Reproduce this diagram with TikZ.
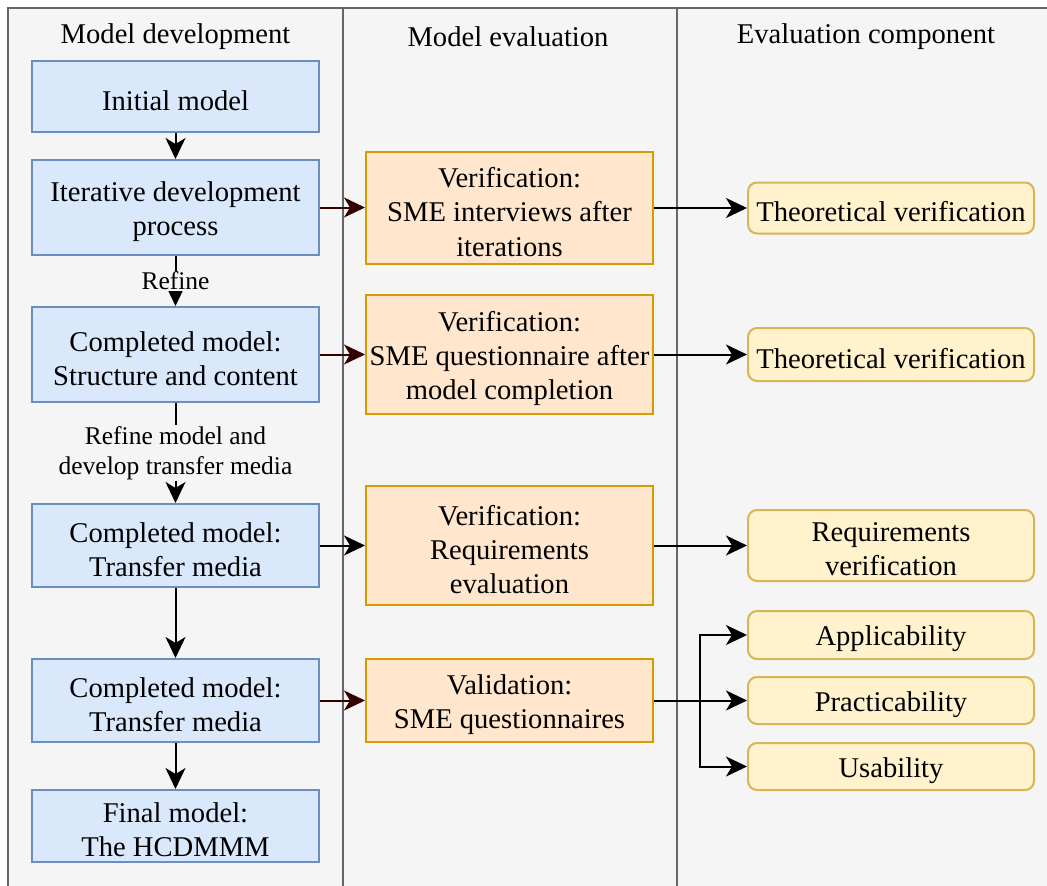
\documentclass[tikz,border=0pt]{standalone}
\usepackage{fontspec}
\setmainfont{Liberation Serif}
\usetikzlibrary{arrows.meta}
\definecolor{colfill}{HTML}{F5F5F5}
\definecolor{colline}{HTML}{666666}
\definecolor{bluefill}{HTML}{DAE8FC}
\definecolor{blueline}{HTML}{6C8EBF}
\definecolor{orfill}{HTML}{FFE6CC}
\definecolor{orline}{HTML}{D79B00}
\definecolor{yefill}{HTML}{FFF2CC}
\definecolor{yeline}{HTML}{D6B656}
\definecolor{darkred}{HTML}{330000}
\newcommand{\bigfont}{\rmfamily\fontsize{28.6}{34.3}\selectfont}
\newcommand{\lblfont}{\rmfamily\fontsize{25.5}{30}\selectfont}
\tikzset{
  colbox/.style={fill=colfill, draw=colline, line width=2pt},
  header/.style={font=\bigfont, inner sep=0pt},
  boxtext/.style={font=\bigfont, align=center, inner sep=0pt, yshift=-4pt},
  bluebox/.style={draw=blueline, fill=bluefill, line width=2pt, minimum width=287pt, inner sep=0pt},
  orbox/.style={draw=orline, fill=orfill, line width=2pt, minimum width=287pt, inner sep=0pt},
  yebox/.style={draw=yeline, fill=yefill, line width=2pt, minimum width=286pt, rounded corners=9pt, inner sep=0pt},
  tipshape/.tip={Stealth[length=21pt,width=20pt,inset=6pt]},
  conn/.style={line width=2pt, -tipshape},
  redconn/.style={line width=2pt, draw=darkred, -tipshape},
  lbl/.style={fill=colfill, inner sep=1pt, align=center, font=\lblfont}
}
\begin{document}
\begin{tikzpicture}[x=1pt,y=-1pt]
\clip (0,0) rectangle (1047,886);
\fill[white] (0,0) rectangle (1047,886);
% columns
\draw[colbox] (8,8) rectangle (343,900);
\draw[colbox] (343,8) rectangle (677,900);
\draw[colbox] (677,8) rectangle (1070,900);
\node[header] (h1) at (175.5,37) {Model development};
\node[header] (h2) at (508,37) {Model evaluation};
\node[header] (h3) at (866,37) {Evaluation component};
% blue boxes
\node[bluebox, minimum height=71pt, label={[boxtext]center:{Initial model}}] (b1) at (175.5,96.5) {};
\node[bluebox, minimum height=95pt, label={[boxtext]center:{Iterative development\\process}}] (b2) at (175.5,207.5) {};
\node[bluebox, minimum height=95pt, label={[boxtext]center:{Completed model:\\Structure and content}}] (b3) at (175.5,354.5) {};
\node[bluebox, minimum height=83pt, label={[boxtext]center:{Completed model:\\Transfer media}}] (b4) at (175.5,545.5) {};
\node[bluebox, minimum height=83pt, label={[boxtext]center:{Completed model:\\Transfer media}}] (b5) at (175.5,700.5) {};
\node[bluebox, minimum height=72pt, label={[boxtext]center:{Final model:\\The HCDMMM}}] (b6) at (175.5,826) {};
% orange boxes
\node[orbox, minimum height=112pt, label={[boxtext]center:{Verification:\\SME interviews after\\iterations}}] (o1) at (509.5,208) {};
\node[orbox, minimum height=119pt, label={[boxtext]center:{Verification:\\SME questionnaire after\\model completion}}] (o2) at (509.5,354.5) {};
\node[orbox, minimum height=119pt, label={[boxtext]center:{Verification:\\Requirements\\evaluation}}] (o3) at (509.5,545.5) {};
\node[orbox, minimum height=83pt, label={[boxtext]center:{Validation:\\SME questionnaires}}] (o4) at (509.5,700.5) {};
% yellow boxes
\node[yebox, minimum height=51pt, label={[boxtext]center:{Theoretical verification}}] (y1) at (891,208) {};
\node[yebox, minimum height=53pt, label={[boxtext]center:{Theoretical verification}}] (y2) at (891,354.5) {};
\node[yebox, minimum height=71pt, label={[boxtext]center:{Requirements\\verification}}] (y3) at (891,545.5) {};
\node[yebox, minimum height=48pt, label={[boxtext]center:{Applicability}}] (y4) at (891,635) {};
\node[yebox, minimum height=47pt, label={[boxtext]center:{Practicability}}] (y5) at (891,700.5) {};
\node[yebox, minimum height=47pt, label={[boxtext]center:{Usability}}] (y6) at (891,766.5) {};
% vertical connectors
\draw[conn] (b1) -- (b2);
\draw[conn] (b2) -- node[lbl] (l1) {Refine} (b3);
\draw[conn] (b3) -- node[lbl] (l2) {Refine model and\\develop transfer media} (b4);
\draw[conn] (b4) -- (b5);
\draw[conn] (b5) -- (b6);
% horizontal connectors
\draw[redconn] (b2) -- (b2 -| o1.west);
\draw[redconn] (b3) -- (o2);
\draw[conn] (b4) -- (o3);
\draw[redconn] (b5) -- (o4);
\draw[conn] (o1) -- (y1);
\draw[conn] (o2) -- (y2);
\draw[conn] (o3) -- (y3);
\coordinate (sp) at (700,700.5);
\draw[conn] (o4.east) -- (sp) |- (y4.west);
\draw[conn] (o4.east) -- (y5.west);
\draw[conn] (sp) |- (y6.west);
\end{tikzpicture}
\end{document}
